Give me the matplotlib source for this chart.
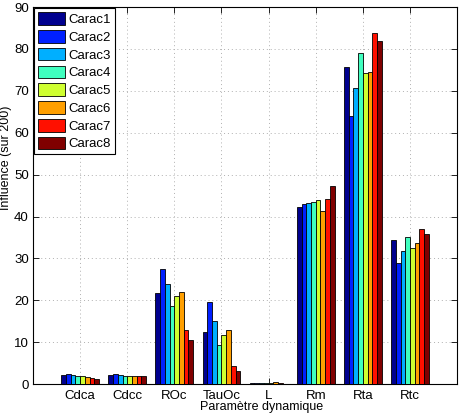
import numpy as np
import matplotlib
matplotlib.use('Agg')
import matplotlib.pyplot as plt
from matplotlib.patches import Patch

# === DADOS ===
parametres = ['Cdca', 'Cdcc', 'ROc', 'TauOc', 'L', 'Rm', 'Rta', 'Rtc']
series = ['Carac1', 'Carac2', 'Carac3', 'Carac4', 'Carac5', 'Carac6', 'Carac7', 'Carac8']

carac1 = [2.1, 2.2, 21.8, 12.4, 0.2, 42.3, 75.7, 34.3]
carac2 = [2.5, 2.5, 27.4, 19.7, 0.2, 43.1, 64.1, 29.0]
carac3 = [2.1, 2.2, 23.9, 15.1, 0.2, 43.2, 70.6, 31.7]
carac4 = [2.0, 2.0, 18.7, 9.2, 0.2, 43.4, 79.1, 35.2]
carac5 = [1.9, 2.0, 21.0, 11.8, 0.3, 43.9, 74.2, 32.5]
carac6 = [1.6, 1.9, 22.0, 12.9, 0.5, 41.4, 74.5, 33.7]
carac7 = [1.4, 1.9, 12.8, 4.4, 0.2, 44.2, 83.7, 37.1]
carac8 = [1.3, 1.9, 10.5, 3.1, 0.1, 47.2, 81.9, 35.8]
valeurs = [carac1, carac2, carac3, carac4, carac5, carac6, carac7, carac8]

# couleurs jet (style MATLAB)
couleurs = [(0, 0, 0.5625), (0, 0.125, 1), (0, 0.6875, 1), (0.25, 1, 0.75),
            (0.8125, 1, 0.1875), (1, 0.625, 0), (1, 0.0625, 0), (0.5, 0, 0)]

plt.rcParams['font.family'] = ['Liberation Sans', 'DejaVu Sans']
plt.rcParams['font.size'] = 9.5

fig = plt.figure(figsize=(4.66, 4.16), dpi=100)
ax = fig.add_axes([0.0708, 0.0769, 0.910, 0.906])

x = np.arange(1, len(parametres) + 1)
largura = 0.1
for i, (nom, vals) in enumerate(zip(series, valeurs)):
    pos = x - 0.4 + largura / 2 + i * largura
    ax.bar(pos, vals, width=largura, color=couleurs[i], edgecolor='black',
           linewidth=0.6, label=nom, zorder=3)

ax.set_xlim(0, 9)
ax.set_ylim(0, 90)
ax.set_xticks(x)
ax.set_xticklabels(parametres)
ax.set_yticks(np.arange(0, 91, 10))
ax.tick_params(direction='in', top=True, right=True, length=4, width=0.6, pad=4)
ax.tick_params(axis='y', pad=3)
ax.grid(True, linestyle=(0, (1, 3)), color='#b0b0b0', linewidth=0.7, zorder=0)
for s in ax.spines.values():
    s.set_linewidth(0.8)

ax.set_ylabel('Influence (sur 200)', fontsize=9)
ax.yaxis.set_label_coords(-0.050, 0.60)
ax.set_xlabel('Paramètre dynamique', fontsize=9)
ax.xaxis.set_label_coords(0.54, -0.044)

handles = [Patch(facecolor=c, edgecolor='black', linewidth=0.6) for c in couleurs]
leg = ax.legend(handles, series, loc='upper left', bbox_to_anchor=(0.003, 0.997),
                fancybox=False, framealpha=1, edgecolor='black', borderpad=0.3,
                handlelength=2.0, handleheight=1.1, handletextpad=0.3,
                labelspacing=0.3, borderaxespad=0, fontsize=9.5)
leg.get_frame().set_linewidth(0.8)

plt.savefig('out.png', dpi=100)
